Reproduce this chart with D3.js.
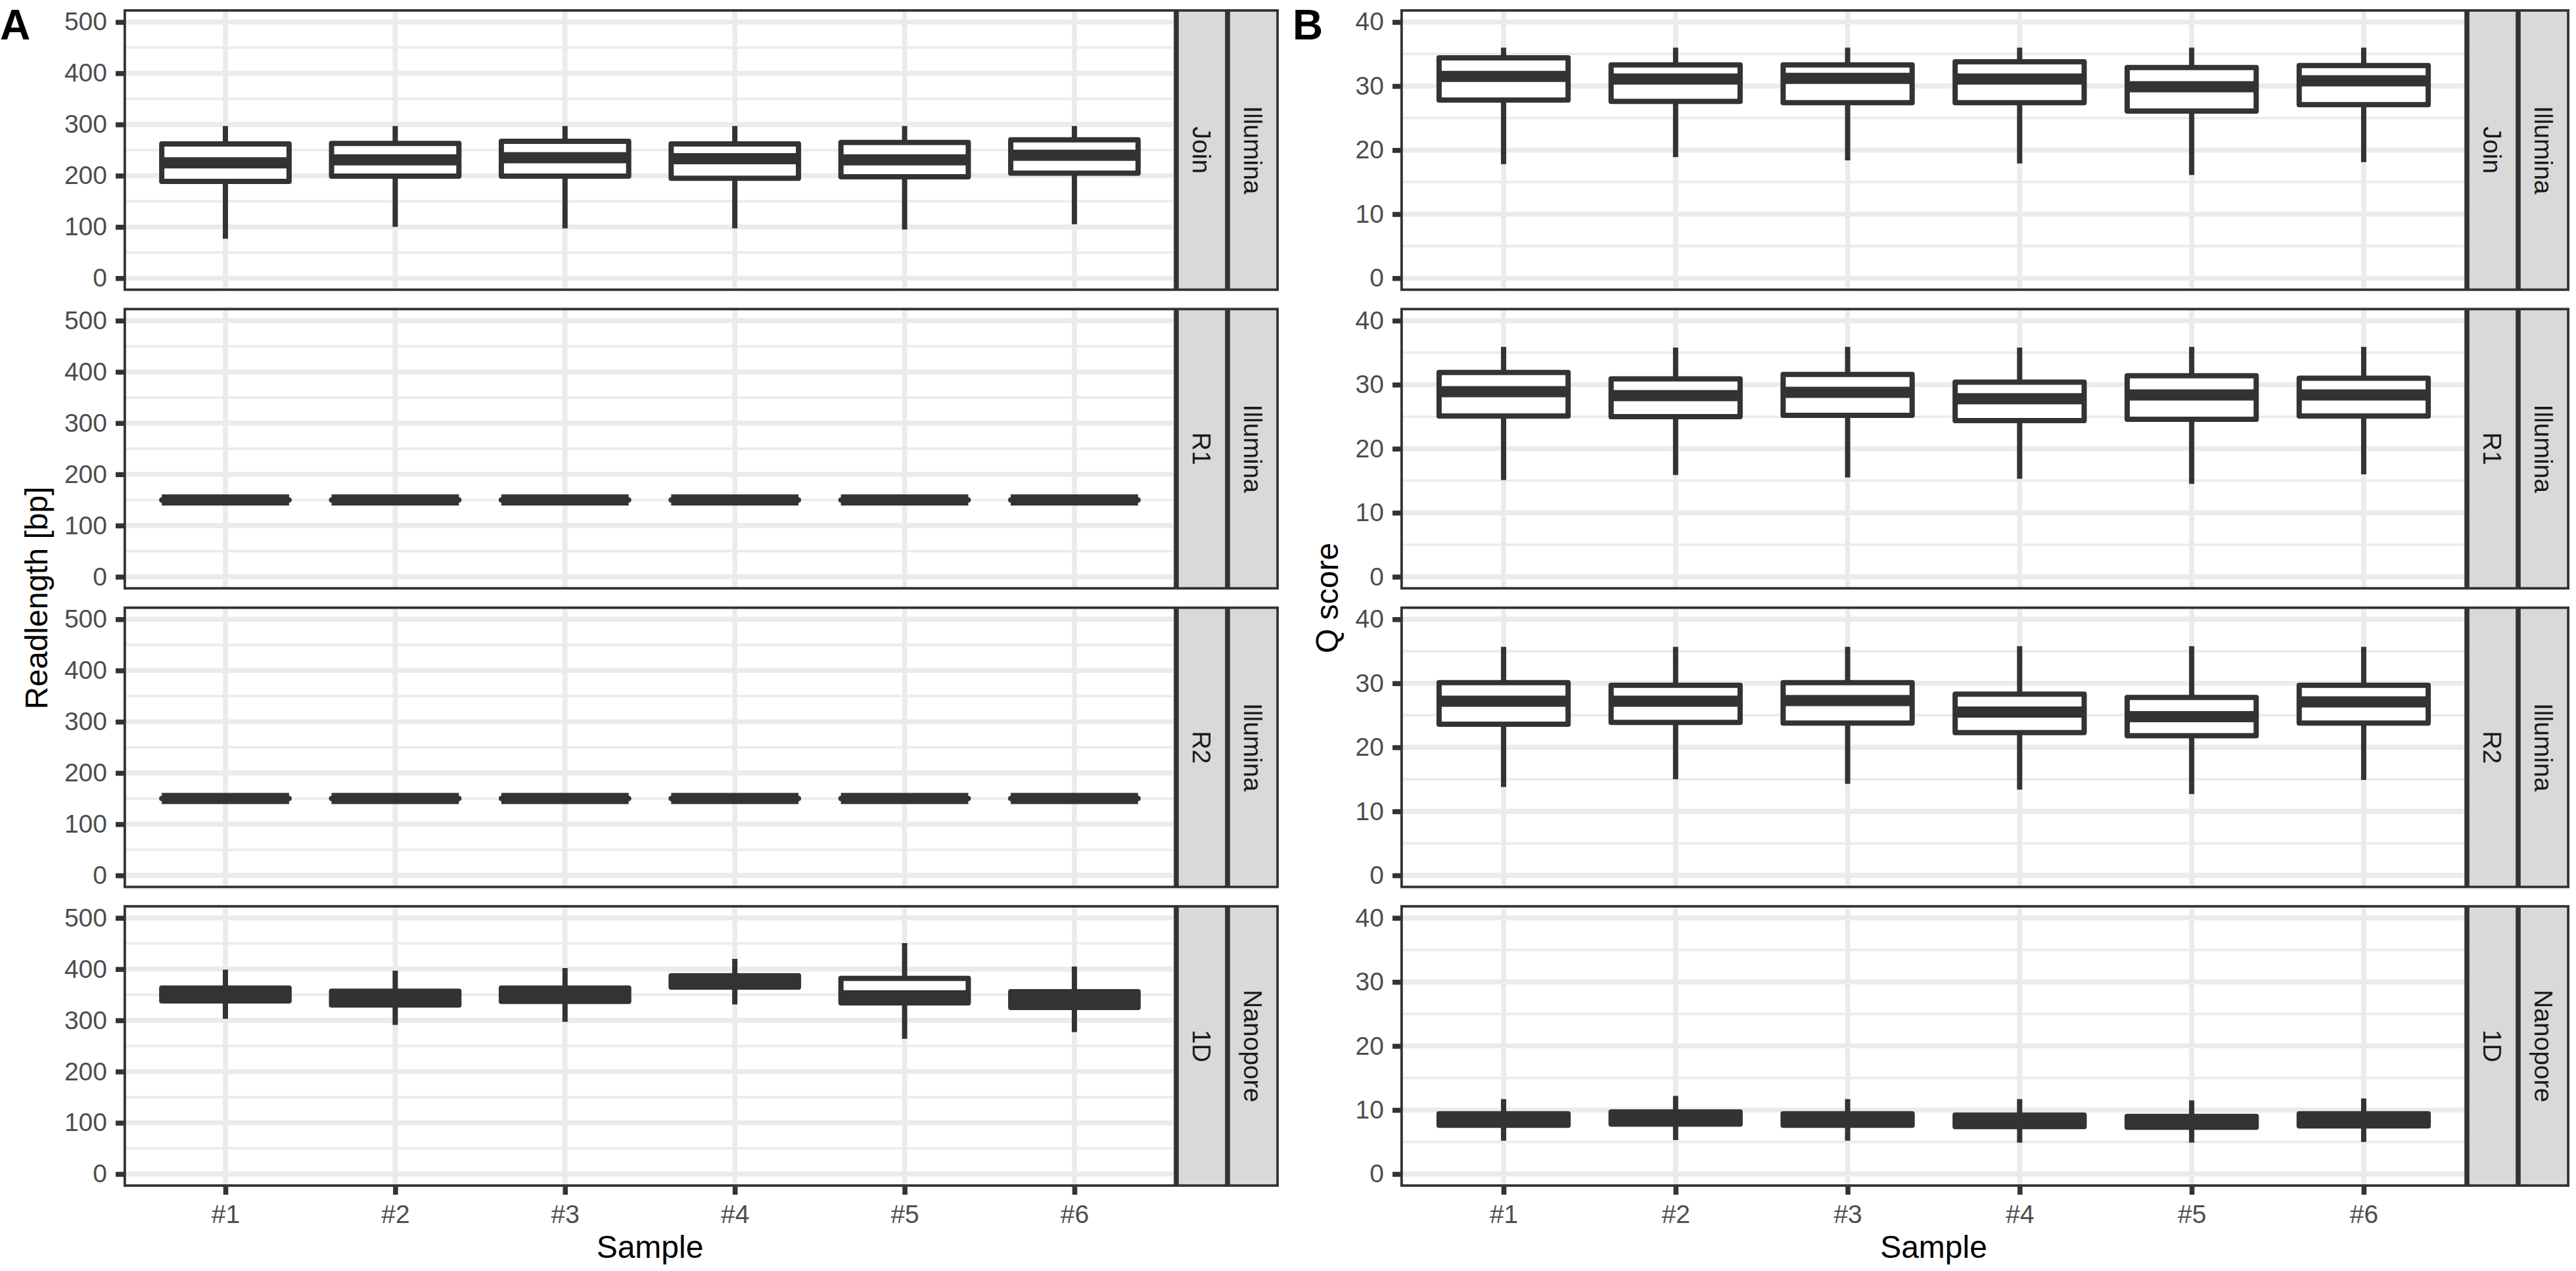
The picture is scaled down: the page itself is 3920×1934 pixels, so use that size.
<!DOCTYPE html>
<html>
<head>
<meta charset="utf-8">
<script src="https://cdn.jsdelivr.net/npm/d3@7"></script>
<style>
  html, body { margin: 0; padding: 0; background: #ffffff; }
  svg { display: block; }
  text { font-family: "Liberation Sans", Arial, Helvetica, sans-serif; }
</style>
</head>
<body>
<svg id="chart" width="3920" height="1934"></svg>
<script>
// ---------------- data ----------------
const samples = ["#1", "#2", "#3", "#4", "#5", "#6"];
const readTypes = ["Join", "R1", "R2", "1D"];
const platforms = ["Illumina", "Illumina", "Illumina", "Nanopore"];

const lenTicks = [0, 100, 200, 300, 400, 500];
const lenMinor = [50, 150, 250, 350, 450];
const qTicks = [0, 10, 20, 30, 40];
const qMinor = [5, 15, 25, 35];

// five-number summaries per sample: [lower whisker, Q1, median, Q3, upper whisker]
const lenJoin = [[77, 189, 225, 262, 297], [100, 199, 231, 263, 297], [97, 199, 235, 267, 297],
                 [97, 195, 233, 262, 297], [95, 198, 231, 265, 297], [105, 205, 240, 270, 297]];
const lenR1 = [[150, 150, 150, 150, 150], [150, 150, 150, 150, 150], [150, 150, 150, 150, 150],
               [150, 150, 150, 150, 150], [150, 150, 150, 150, 150], [150, 150, 150, 150, 150]];
const lenR2 = [[150, 150, 150, 150, 150], [150, 150, 150, 150, 150], [150, 150, 150, 150, 150],
               [150, 150, 150, 150, 150], [150, 150, 150, 150, 150], [150, 150, 150, 150, 150]];
const len1D = [[303, 338, 350, 363, 399], [291, 330, 343, 357, 397], [297, 337, 350, 363, 402],
               [331, 365, 376, 387, 420], [264, 334, 348, 382, 451], [277, 325, 340, 356, 405]];

const qJoin = [[17.8, 27.8, 31.5, 34.4, 36.0], [18.9, 27.6, 31.1, 33.3, 36.0], [18.4, 27.4, 31.2, 33.3, 36.0],
               [17.9, 27.4, 31.1, 33.8, 36.0], [16.1, 26.1, 29.9, 32.9, 36.0], [18.1, 27.1, 30.8, 33.2, 36.0]];
const qR1 = [[15.1, 25.1, 28.9, 31.9, 35.9], [15.9, 25.0, 28.3, 30.9, 35.8], [15.5, 25.2, 28.8, 31.6, 35.9],
             [15.3, 24.4, 27.8, 30.4, 35.8], [14.5, 24.6, 28.4, 31.4, 35.9], [16.0, 25.1, 28.4, 31.0, 35.9]];
const qR2 = [[13.8, 23.6, 27.2, 30.1, 35.7], [15.0, 23.9, 27.2, 29.7, 35.7], [14.3, 23.8, 27.3, 30.1, 35.7],
             [13.4, 22.3, 25.5, 28.3, 35.8], [12.7, 21.8, 24.8, 27.8, 35.8], [14.9, 23.8, 27.1, 29.7, 35.7]];
const q1D = [[5.2, 7.6, 8.5, 9.4, 11.7], [5.3, 7.8, 8.8, 9.7, 12.2], [5.2, 7.6, 8.5, 9.4, 11.7],
             [4.9, 7.4, 8.3, 9.2, 11.7], [4.9, 7.3, 8.2, 9.0, 11.5], [5.0, 7.5, 8.5, 9.4, 11.8]];

// ---------------- layout ----------------
const svg = d3.select("#chart");
const ROW_TOP0 = 14, ROW_PITCH = 454.4, ROW_H = 428.7;
const STRIP_W = 78;
const LINE = 7.6, MINOR = 3.8, BOXW = 8, MEDW = 17;
const TICK_FS = 39, TITLE_FS = 48;
const DARK = "#333333", GRID = "#EBEBEB";

const panelsDef = [
  { tag: "A", tagX: 0, x0: 188, x1: 1790, rows: [lenJoin, lenR1, lenR2, len1D],
    domain: [-25, 525], ticks: lenTicks, minor: lenMinor, ytitle: "Readlength [bp]", ytitleX: 72 },
  { tag: "B", tagX: 1967, x0: 2131, x1: 3754, rows: [qJoin, qR1, qR2, q1D],
    domain: [-2, 42], ticks: qTicks, minor: qMinor, ytitle: "Q score", ytitleX: 2036 }
];

panelsDef.forEach((P, pi) => {
  const x = d3.scalePoint().domain(samples).range([P.x0, P.x1]).padding(0.6);
  const bw = x.step() * 0.75;

  P.rows.forEach((stats, ri) => {
    const top = ROW_TOP0 + ri * ROW_PITCH;
    const bottom = top + ROW_H;
    const y = d3.scaleLinear().domain(P.domain).range([bottom, top]);
    const g = svg.append("g");
    const clipId = `clip-${pi}-${ri}`;
    svg.append("clipPath").attr("id", clipId)
      .append("rect").attr("x", P.x0).attr("y", top).attr("width", P.x1 - P.x0).attr("height", ROW_H);

    const inner = g.append("g").attr("clip-path", `url(#${clipId})`);
    inner.append("rect").attr("x", P.x0).attr("y", top).attr("width", P.x1 - P.x0).attr("height", ROW_H)
      .attr("fill", "#ffffff");

    // grid
    inner.selectAll(".minor").data(P.minor).enter().append("line")
      .attr("x1", P.x0).attr("x2", P.x1).attr("y1", d => y(d)).attr("y2", d => y(d))
      .attr("stroke", GRID).attr("stroke-width", MINOR);
    inner.selectAll(".major").data(P.ticks).enter().append("line")
      .attr("x1", P.x0).attr("x2", P.x1).attr("y1", d => y(d)).attr("y2", d => y(d))
      .attr("stroke", GRID).attr("stroke-width", LINE);
    inner.selectAll(".vgrid").data(samples).enter().append("line")
      .attr("x1", d => x(d)).attr("x2", d => x(d)).attr("y1", top).attr("y2", bottom)
      .attr("stroke", GRID).attr("stroke-width", LINE);

    // boxes
    const bx = inner.selectAll(".box").data(stats).enter().append("g");
    bx.append("line")
      .attr("x1", (d, i) => x(samples[i])).attr("x2", (d, i) => x(samples[i]))
      .attr("y1", d => y(d[3])).attr("y2", d => y(d[4]))
      .attr("stroke", DARK).attr("stroke-width", BOXW);
    bx.append("line")
      .attr("x1", (d, i) => x(samples[i])).attr("x2", (d, i) => x(samples[i]))
      .attr("y1", d => y(d[1])).attr("y2", d => y(d[0]))
      .attr("stroke", DARK).attr("stroke-width", BOXW);
    bx.append("path")
      .attr("d", (d, i) => {
        const xl = x(samples[i]) - bw / 2, xr = x(samples[i]) + bw / 2;
        const yt = y(d[3]), yb = y(d[1]);
        return `M${xl},${yt}H${xr}V${yb}H${xl}Z`;
      })
      .attr("fill", "#ffffff").attr("stroke", DARK).attr("stroke-width", BOXW)
      .attr("stroke-linejoin", "round");
    bx.append("line")
      .attr("x1", (d, i) => x(samples[i]) - bw / 2).attr("x2", (d, i) => x(samples[i]) + bw / 2)
      .attr("y1", d => y(d[2])).attr("y2", d => y(d[2]))
      .attr("stroke", DARK).attr("stroke-width", MEDW);

    // panel border (inner half visible, like ggplot)
    g.append("rect").attr("x", P.x0 + LINE / 4).attr("y", top + LINE / 4)
      .attr("width", P.x1 - P.x0 - LINE / 2).attr("height", ROW_H - LINE / 2)
      .attr("fill", "none").attr("stroke", DARK).attr("stroke-width", LINE / 2);

    // strips
    [readTypes[ri], platforms[ri]].forEach((lab, si) => {
      const sx = P.x1 + si * STRIP_W;
      g.append("rect").attr("x", sx + LINE / 4).attr("y", top + LINE / 4)
        .attr("width", STRIP_W - LINE / 2).attr("height", ROW_H - LINE / 2)
        .attr("fill", "#D9D9D9").attr("stroke", DARK).attr("stroke-width", LINE / 2);
      g.append("text")
        .attr("transform", `translate(${sx + STRIP_W / 2},${top + ROW_H / 2}) rotate(90)`)
        .attr("text-anchor", "middle").attr("dy", "0.35em")
        .attr("font-size", TICK_FS).attr("fill", "#1A1A1A").text(lab);
    });

    // y axis
    const yAxis = d3.axisLeft(y).tickValues(P.ticks).tickSize(12).tickPadding(13);
    const ya = g.append("g").attr("transform", `translate(${P.x0},0)`).call(yAxis);
    ya.select(".domain").remove();
    ya.selectAll(".tick line").attr("stroke", DARK).attr("stroke-width", LINE);
    ya.selectAll(".tick text").attr("font-size", TICK_FS).attr("fill", "#4D4D4D")
      .attr("font-family", "'Liberation Sans', Arial, sans-serif");

    // x axis on bottom row
    if (ri === P.rows.length - 1) {
      const xAxis = d3.axisBottom(x).tickSize(12).tickPadding(15);
      const xa = g.append("g").attr("transform", `translate(0,${bottom})`).call(xAxis);
      xa.select(".domain").remove();
      xa.selectAll(".tick line").attr("stroke", DARK).attr("stroke-width", LINE);
      xa.selectAll(".tick text").attr("font-size", TICK_FS).attr("fill", "#4D4D4D")
        .attr("font-family", "'Liberation Sans', Arial, sans-serif");
      svg.append("text").attr("x", (P.x0 + P.x1) / 2).attr("y", 1914)
        .attr("text-anchor", "middle").attr("font-size", TITLE_FS).attr("fill", "#000000")
        .text("Sample");
    }
  });

  // y title
  const midY = ROW_TOP0 + ((P.rows.length - 1) * ROW_PITCH + ROW_H) / 2;
  svg.append("text")
    .attr("transform", `translate(${P.ytitleX},${midY}) rotate(-90)`)
    .attr("text-anchor", "middle").attr("font-size", TITLE_FS).attr("fill", "#000000")
    .text(P.ytitle);

  // panel tag
  svg.append("text").attr("x", P.tagX).attr("y", 60)
    .attr("font-size", 64).attr("font-weight", "bold").attr("fill", "#000000")
    .text(P.tag);
});
</script>
</body>
</html>
